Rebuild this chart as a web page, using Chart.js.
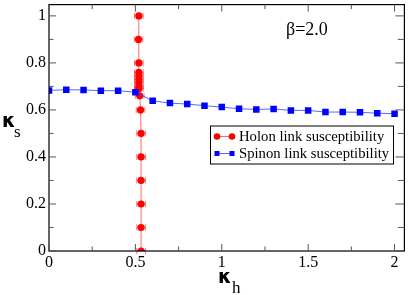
<!DOCTYPE html>
<html>
<head>
<meta charset="utf-8">
<script src="https://cdn.jsdelivr.net/npm/chart.js@4/dist/chart.umd.min.js"></script>
<style>
html,body{margin:0;padding:0;background:#fff;}
#wrap{width:409px;height:295px;position:relative;}
</style>
</head>
<body>
<div id="wrap"><canvas id="c" width="409" height="295"></canvas></div>
<script>
// ---- data ----
const holonX = [0.533,0.533,0.533,0.533,0.533,0.533,0.530,0.525,0.520,0.520,0.520,0.520,0.520,0.520,0.520,0.518,0.520];
const holonY = [0.0,0.1,0.2,0.3,0.4,0.5,0.6,0.66,0.69,0.70,0.716,0.73,0.745,0.76,0.80,0.90,1.0];
const holonXErr = [0.025,0.025,0.025,0.025,0.025,0.025,0.025,0.025,0.025,0.025,0.025,0.025,0.025,0.025,0.025,0.025,0.025];
const spinonX = [0,0.1,0.2,0.3,0.4,0.5,0.6,0.7,0.8,0.9,1.0,1.1,1.2,1.3,1.4,1.5,1.6,1.7,1.8,1.9,2.0];
const spinonY = [0.683,0.686,0.685,0.682,0.682,0.675,0.639,0.629,0.625,0.618,0.612,0.605,0.602,0.604,0.598,0.598,0.591,0.591,0.590,0.586,0.584];
const xTicks = [0,0.5,1,1.5,2];
const xMinorTicks = [0.25,0.75,1.25,1.75];
const yTicks = [0,0.2,0.4,0.6,0.8,1];
const yMinorTicks = [0.1,0.3,0.5,0.7,0.9];
const seriesNames = ["Holon link susceptibility","Spinon link susceptibility"];
const annotationText = "β=2.0";
const xTitle = ["κ","h"];
const yTitle = ["κ","s"];

const SERIF = "'Liberation Serif','DejaVu Serif',serif";

const framePlugin = {
  id: 'frame',
  beforeDatasetsDraw(chart) {
    const ctx = chart.ctx;
    const xs = chart.scales.x, ys = chart.scales.y;
    ctx.save();
    ctx.strokeStyle = 'rgba(255,70,70,0.75)';
    ctx.lineWidth = 1;
    holonX.forEach((x, i) => {
      const y = ys.getPixelForValue(holonY[i]);
      const x0 = xs.getPixelForValue(x - holonXErr[i]);
      const x1 = xs.getPixelForValue(x + holonXErr[i]);
      ctx.beginPath();
      ctx.moveTo(x0, y); ctx.lineTo(x1, y);
      ctx.moveTo(x0, y - 3); ctx.lineTo(x0, y + 3);
      ctx.moveTo(x1, y - 3); ctx.lineTo(x1, y + 3);
      ctx.stroke();
    });
    ctx.restore();
  },
  afterDraw(chart) {
    const ctx = chart.ctx;
    const a = chart.chartArea;
    const xs = chart.scales.x, ys = chart.scales.y;
    ctx.save();
    // frame
    ctx.strokeStyle = '#000';
    ctx.lineWidth = 1.2;
    ctx.strokeRect(a.left, a.top, a.right - a.left, a.bottom - a.top);
    ctx.lineWidth = 1;
    ctx.strokeStyle = '#555';
    ctx.beginPath();
    const tick = (vals, len, lenR) => {
      vals.forEach(v => {
        const p = ys.getPixelForValue(v);
        ctx.moveTo(a.left, p); ctx.lineTo(a.left + len, p);
        ctx.moveTo(a.right, p); ctx.lineTo(a.right - lenR, p);
      });
    };
    tick(yTicks, 7, 9);
    tick(yMinorTicks, 4.5, 6.5);
    const tickx = (vals, len) => {
      vals.forEach(v => {
        const p = xs.getPixelForValue(v);
        ctx.moveTo(p, a.bottom); ctx.lineTo(p, a.bottom - len);
        ctx.moveTo(p, a.top); ctx.lineTo(p, a.top + len);
      });
    };
    tickx(xTicks, 7);
    tickx(xMinorTicks, 4.5);
    ctx.stroke();

    // annotation
    ctx.fillStyle = '#000';
    ctx.font = "18px " + SERIF;
    ctx.textBaseline = 'alphabetic';
    ctx.textAlign = 'left';
    ctx.fillText(annotationText, 286, 35);

    // axis titles
    ctx.font = "bold 19px 'DejaVu Sans',sans-serif";
    ctx.fillText(yTitle[0], 2, 127);
    ctx.fillText(xTitle[0], 218, 283);
    ctx.font = "17px " + SERIF;
    ctx.fillText(yTitle[1], 14, 137);
    ctx.fillText(xTitle[1], 232, 293);

    // legend
    const lx = 210, ly = 125.5, lw = 183, lh = 38;
    ctx.fillStyle = '#fff';
    ctx.fillRect(lx, ly, lw, lh);
    ctx.strokeStyle = '#000';
    ctx.lineWidth = 1;
    ctx.strokeRect(lx + 0.5, ly + 0.5, lw, lh);
    const ds = chart.data.datasets;
    const rows = [136.5, 153.5];
    ds.forEach((d, i) => {
      const y = rows[i];
      ctx.strokeStyle = d.borderColor;
      ctx.lineWidth = 1;
      ctx.beginPath();
      ctx.moveTo(217, y); ctx.lineTo(232, y);
      ctx.stroke();
      ctx.fillStyle = d.pointBackgroundColor;
      [217, 232].forEach(px => {
        ctx.beginPath();
        if (d.pointStyle === 'rect') {
          ctx.rect(px - 2.5, y - 2.5, 5, 5);
        } else {
          ctx.arc(px, y, 3.3, 0, Math.PI * 2);
        }
        ctx.fill();
      });
      ctx.fillStyle = '#000';
      ctx.font = "14.7px " + SERIF;
      ctx.textBaseline = 'middle';
      ctx.fillText(d.label, 239, y + 1);
    });
    ctx.restore();
  }
};

const fmt = v => String(+v.toFixed(2));

new Chart(document.getElementById('c'), {
  type: 'scatter',
  data: {
    datasets: [
      {
        label: seriesNames[0],
        data: holonX.map((x, i) => ({x: x, y: holonY[i]})),
        showLine: true,
        borderColor: 'rgba(255,70,70,0.8)',
        borderWidth: 1,
        pointStyle: 'circle',
        pointRadius: 3.6,
        pointBackgroundColor: '#ff0000',
        pointBorderWidth: 0,
        order: 2
      },
      {
        label: seriesNames[1],
        data: spinonX.map((x, i) => ({x: x, y: spinonY[i]})),
        showLine: true,
        borderColor: 'rgba(60,80,255,0.85)',
        borderWidth: 1,
        pointStyle: 'rect',
        pointRadius: 4.6,
        pointBackgroundColor: '#0000ff',
        pointBorderWidth: 0,
        order: 1
      }
    ]
  },
  options: {
    responsive: false,
    animation: false,
    events: [],
    layout: {padding: {left: 0, right: 0, top: 1, bottom: 0}},
    plugins: {legend: {display: false}, tooltip: {enabled: false}},
    scales: {
      x: {
        type: 'linear',
        min: 0, max: 2.057,
        grid: {display: false, drawTicks: false},
        border: {display: false},
        ticks: {color: '#000', font: {family: SERIF, size: 16}, padding: 2, maxRotation: 0, autoSkip: false, callback: fmt},
        afterBuildTicks: s => { s.ticks = xTicks.map(v => ({value: v})); },
        afterFit: s => { s.height = 44; s.paddingLeft = 0; s.paddingRight = 0; }
      },
      y: {
        type: 'linear',
        min: 0, max: 1.048,
        grid: {display: false, drawTicks: false},
        border: {display: false},
        ticks: {color: '#000', font: {family: SERIF, size: 16}, padding: 3, autoSkip: false, callback: fmt},
        afterBuildTicks: s => { s.ticks = yTicks.map(v => ({value: v})); },
        afterFit: s => { s.width = 49; s.paddingTop = 0; s.paddingBottom = 0; }
      }
    }
  },
  plugins: [framePlugin]
});
</script>
</body>
</html>
